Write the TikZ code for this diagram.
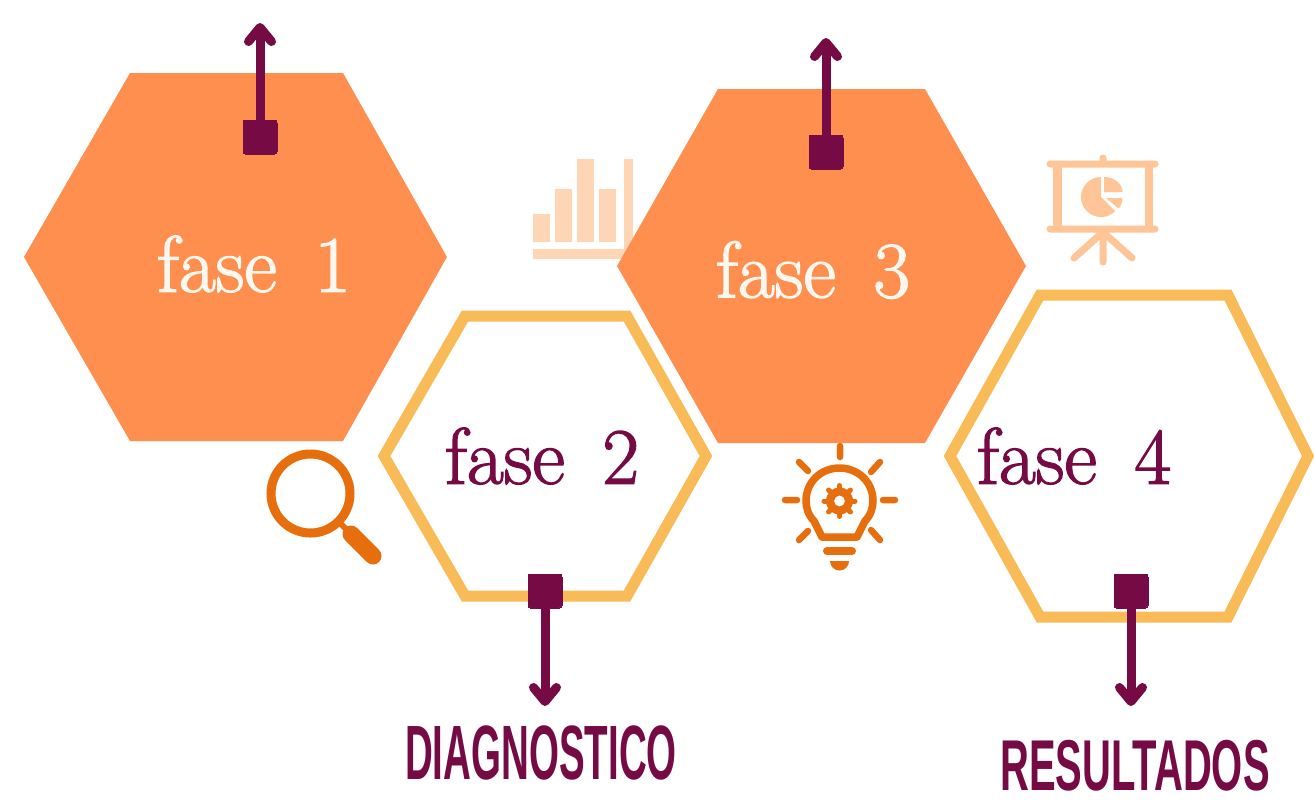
\documentclass[tikz,border=0pt]{standalone}
\usepackage{fontspec}
\newfontfamily\capsfont{Liberation Sans}
\newfontfamily\fasefont[FakeBold=1.6]{Latin Modern Roman}
\usetikzlibrary{arrows.meta}
\definecolor{wine}{HTML}{750A45}
\definecolor{fillor}{HTML}{FF8F4F}
\definecolor{ringor}{HTML}{F8BB57}
\definecolor{iconor}{HTML}{E66E0C}
\definecolor{pale}{HTML}{FFC596}
\definecolor{paler}{HTML}{FFD6B5}
\begin{document}
\begin{tikzpicture}[x=1pt,y=-1pt,
  hexfill/.style={fill=fillor,draw=none},
  hexring/.style={draw=ringor,line width=11pt,fill=none,miter limit=10},
  fase/.style={font=\fasefont\fontsize{80}{80}\selectfont,inner sep=0pt,anchor=center},
  conn/.style={draw=wine,line width=9pt,line cap=round,-{Straight Barb[round,length=14pt,width=23pt]}},
  sq/.style={fill=wine,draw=wine,rounded corners=3pt,minimum size=34pt,inner sep=0pt,line width=0pt},
  capta/.style={text=wine,font=\capsfont\bfseries\fontsize{77}{77}\selectfont,inner sep=0pt,xscale=0.5},
  captb/.style={text=wine,font=\capsfont\bfseries\fontsize{72}{72}\selectfont,inner sep=0pt,xscale=0.555},
  ico/.style={draw=iconor,line cap=round,line width=6.5pt}]
\useasboundingbox (0,0) rectangle (1314,804);
\fill[white] (0,0) rectangle (1314,804);
% chart (behind hexagon)
\fill[paler] (533,214) rectangle (550,242);
\fill[paler] (555,189) rectangle (572,242);
\fill[paler] (577,159) rectangle (594,242);
\fill[paler] (599,189) rectangle (616,242);
\fill[paler] (624,159) rectangle (633,259);
\fill[paler] (533,249) rectangle (633,259);
\fill[hexfill] (24,257)--(130,73)--(343,73)--(447,257)--(343,441)--(130,441)--cycle;
\fill[hexfill] (617,266)--(718,89)--(925,89)--(1026,266)--(925,443)--(718,443)--cycle;
\draw[hexring] (384,456)--(465,316)--(627,316)--(706,456)--(627,596)--(465,596)--cycle;
\draw[hexring] (950,456)--(1040,295)--(1228,295)--(1308,456)--(1228,617)--(1040,617)--cycle;
\node[fase,text=white!94!orange] (f1) at (254,264) {fase\, 1};
\node[fase,text=white!94!orange] (f3) at (813,270) {fase\, 3};
\node[fase,text=wine] (f2) at (542,456) {fase\, 2};
\node[fase,text=wine] (f4) at (1074,456) {fase\, 4};
\node[sq] (s1) at (260,137) {};
\node[sq] (s3) at (826,152) {};
\node[sq] (s2) at (545,591) {};
\node[sq] (s4) at (1131,591) {};
\coordinate (e1) at (260,23);
\coordinate (e3) at (826,38);
\coordinate (e2) at (545,706);
\coordinate (e4) at (1131,706);
\draw[conn] (s1.center)--(e1);
\draw[conn] (s3.center)--(e3);
\draw[conn] (s2.center)--(e2);
\draw[conn] (s4.center)--(e4);
\node[capta] (d) at (541,753) {DIAGNOSTICO};
\node[captb] (r) at (1135,766) {RESULTADOS};
% magnifier
\draw[draw=iconor,line width=9pt] (310.5,493.5) circle (39.5);
\draw[draw=iconor,line width=6pt] (338,521)--(350,533);
\draw[draw=iconor,line width=17pt,line cap=round] (351,534)--(373,556);
% bulb
\begin{scope}[shift={(770,430)}]
\draw[ico] (29,32)--(38,41) (110,32)--(101,42) (70,16)--(70,27) (15,70)--(27,70) (125,70)--(113,70) (29,110)--(38,101) (110,110)--(101,100);
\draw[iconor,line width=7.5pt,line join=round] (52,107)--(87,107)--(95,91) .. controls (101,85) and (103,77) .. (103,71) .. controls (103,52) and (88,38) .. (69.5,38) .. controls (51,38) and (36,52) .. (36,71) .. controls (36,77) and (38,85) .. (44,91)--cycle;
\fill[iconor,even odd rule] (69.5,71) circle (13.5) (69.5,71) circle (5.5);
\foreach \a in {0,45,...,315}{\draw[iconor,line width=5pt,line cap=round] (69.5,71)++(\a:13)--++(\a:2.5);}
\draw[iconor,line width=8pt,line cap=round] (57,121)--(82,121);
\fill[iconor] (60,131)--(79,131) arc[start angle=0,end angle=180,radius=9.5]--cycle;
\end{scope}
% screen
\begin{scope}[shift={(1030,145)}]
\fill[pale] (23,19) rectangle (123,84);
\fill[white] (32,22) rectangle (115,81);
\draw[pale,line width=7pt,line cap=round] (20,19)--(125,19) (20,84)--(125,84) (73,13)--(73,19) (73,87)--(73,117) (73,87)--(44,113) (73,87)--(102,113);
\fill[pale] (71,52)--(71,32) arc[start angle=-90,end angle=-315,radius=20]--cycle;
\fill[pale] (74,47)--(74,32) arc[start angle=-90,end angle=0,x radius=18.5,y radius=15]--cycle;
\fill[pale] (76,53)--(92.5,53) arc[start angle=0,end angle=40,radius=16.5]--cycle;
\end{scope}
\end{tikzpicture}
\end{document}
